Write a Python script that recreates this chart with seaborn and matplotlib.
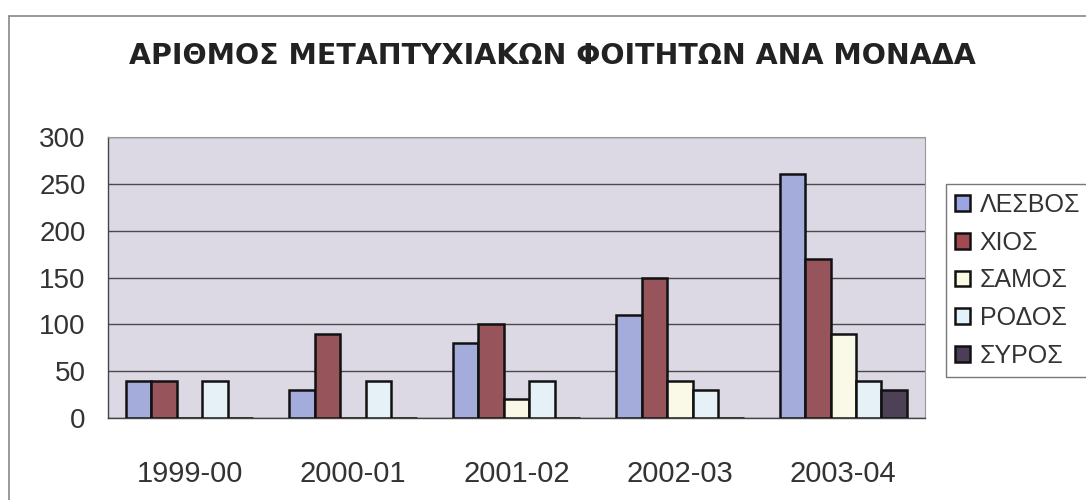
import matplotlib
matplotlib.use('Agg')

import matplotlib.pyplot as plt
import matplotlib.patches as mpatches
from matplotlib.lines import Line2D
from matplotlib.ticker import FixedLocator
import seaborn as sns
import pandas as pd

# ── Data ───────────────────────────────────────────────────────────────────
years = ['1999-00', '2000-01', '2001-02', '2002-03', '2003-04']
units = ['ΛΕΣΒΟΣ', 'ΧΙΟΣ', 'ΣΑΜΟΣ', 'ΡΟΔΟΣ', 'ΣΥΡΟΣ']

lesvos = [40, 30, 80, 110, 260]
chios = [40, 90, 100, 150, 170]
samos = [0, 0, 20, 40, 90]
rodos = [40, 40, 40, 30, 40]
syros = [0, 0, 0, 0, 30]

colors = ['#9ba5e4', '#a24a52', '#fdfbe4', '#e2f2fa', '#4c3e58']

df = pd.DataFrame({
    'year': years * 5,
    'unit': sum([[u] * len(years) for u in units], []),
    'value': lesvos + chios + samos + rodos + syros,
})

# ── Figure ─────────────────────────────────────────────────────────────────
sns.set_style('white')
plt.rcParams['font.family'] = ['Liberation Sans', 'DejaVu Sans']

fig = plt.figure(figsize=(10.86, 5.0), dpi=100)
ax = fig.add_axes([0.0994, 0.164, 0.7523, 0.562])
ax.set_facecolor('#dcd8e4')

sns.barplot(
    data=df,
    x='year',
    y='value',
    hue='unit',
    hue_order=units,
    palette=colors,
    width=0.78,
    gap=0,
    edgecolor='#111111',
    linewidth=1.8,
    ax=ax,
    legend=False,
    zorder=3
)

ax.set_ylim(0, 300)
ax.set_xlim(-0.5, 4.5)
ax.set_yticks(range(0, 301, 50))
ax.yaxis.grid(True, color='#4a4a4a', linewidth=1.0, zorder=0)
ax.set_axisbelow(True)
ax.set_xlabel('')
ax.set_ylabel('')

for side in ['top', 'right']:
    ax.spines[side].set_color('#999999')
    ax.spines[side].set_linewidth(0.8)
for side in ['left', 'bottom']:
    ax.spines[side].set_color('#444444')
    ax.spines[side].set_linewidth(1.0)

ax.tick_params(axis='y', which='major', direction='out', length=6,
               width=1, color='#444444', pad=10,
               labelsize=20, labelcolor='#333333')
ax.tick_params(axis='x', which='major', length=0, pad=30,
               labelsize=21, labelcolor='#333333')
ax.xaxis.set_minor_locator(FixedLocator([-0.5, 0.5, 1.5, 2.5, 3.5, 4.5]))
ax.tick_params(axis='x', which='minor', direction='out', length=5,
               width=1, color='#777777')

# ── Title ──────────────────────────────────────────────────────────────────
fig.text(
    0.509, 0.888,
    'ΑΡΙΘΜΟΣ ΜΕΤΑΠΤΥΧΙΑΚΩΝ ΦΟΙΤΗΤΩΝ ΑΝΑ ΜΟΝΑΔΑ',
    ha='center', va='center',
    fontsize=20.5, fontweight='bold', color='#222222',
    family=['DejaVu Sans']
)

# ── Legend ─────────────────────────────────────────────────────────────────
handles = [
    mpatches.Patch(facecolor=c, edgecolor='#111111', linewidth=1.8, label=u)
    for u, c in zip(units, colors)
]
leg = fig.legend(
    handles=handles,
    loc='upper left',
    bbox_to_anchor=(0.871, 0.632),
    frameon=True,
    fancybox=False,
    fontsize=18,
    handlelength=0.6,
    handleheight=0.6,
    handletextpad=0.4,
    labelspacing=0.55,
    borderpad=0.35,
    borderaxespad=0,
    labelcolor='#333333'
)
leg.get_frame().set_edgecolor('#555555')
leg.get_frame().set_linewidth(1.0)

# ── Outer chart frame ──────────────────────────────────────────────────────
fig.add_artist(Line2D([9 / 1086, 1.0], [1 - 16 / 500, 1 - 16 / 500],
                      color='#888888', linewidth=1.2,
                      transform=fig.transFigure))
fig.add_artist(Line2D([9 / 1086, 9 / 1086], [0.0, 1 - 16 / 500],
                      color='#888888', linewidth=1.2,
                      transform=fig.transFigure))

fig.savefig('out.png', dpi=100, facecolor='white')
